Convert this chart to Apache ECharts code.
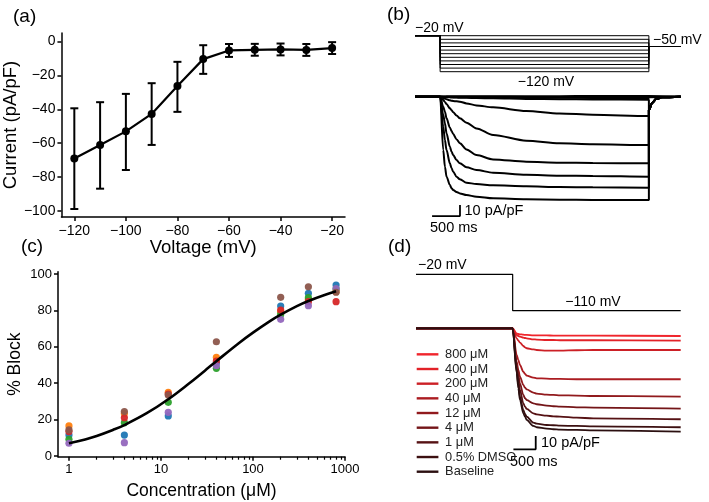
<!DOCTYPE html>
<html><head><meta charset="utf-8">
<script src="https://cdn.jsdelivr.net/npm/echarts@6/dist/echarts.min.js"></script>
<style>html,body{margin:0;padding:0;background:#fff}#c{width:709px;height:502px}</style>
</head><body><div id="c"></div><script>
const FONT = '"Liberation Sans", Arial, Helvetica, sans-serif';

// ---------- (a) I-V relationship ----------
const aVoltage = [-120, -110, -100, -90, -80, -70, -60, -50, -40, -30, -20];
const aCurrent = [-69, -61, -53, -42.7, -26.2, -10.4, -5.3, -4.9, -4.7, -5.0, -3.9];
const aErrLow  = [-98.8, -86.8, -75.8, -61, -41.5, -19.1, -9.1, -8.4, -8.2, -8.5, -7.4];
const aErrHigh = [-39.4, -35.8, -30.9, -24.6, -12, -2.2, -1.5, -1.4, -1.2, -1.5, -0.4];
const aTicksX = [-120, -100, -80, -60, -40, -20];
const aTicksY = [-100, -80, -60, -40, -20, 0];

// ---------- (b) protocol and current traces ----------
const bSteps = [-20, -30, -40, -50, -60, -70, -80, -90, -100, -110, -120];
const bProtoTime = [0, 450, 450, 4190, 4190, 4760];
const bHold = -20, bTailV = -50;
const bTime = [0, 450, 506, 536, 565, 625, 655, 684, 744, 804, 923, 1101, 1399, 1994, 2589, 3185, 4190];
const bI20  = [0, 0, 0.2, 0.2, 0.3, 0.3, 0.3, 0.3, 0.3, 0.4, 0.4, 0.4, 0.5, 0.5, 0.5, 0.6, 0.6];
const bI30  = [0, 0, 0, 0, 0, 0, 0, -0.1, -0.1, -0.1, -0.1, -0.1, -0.1, -0.2, -0.2, -0.2, -0.2];
const bI40  = [0, 0, -0.1, -0.1, -0.2, -0.2, -0.2, -0.2, -0.3, -0.3, -0.3, -0.3, -0.4, -0.4, -0.5, -0.5, -0.5];
const bI50  = [0, 0, -0.2, -0.2, -0.3, -0.3, -0.3, -0.4, -0.4, -0.4, -0.5, -0.6, -0.7, -0.9, -1.0, -1.1, -1.2];
const bI60  = [0, 0, -0.3, -0.4, -0.5, -0.6, -0.7, -0.7, -0.8, -0.9, -1.0, -1.2, -1.5, -2.0, -2.3, -2.5, -2.7];
const bI70  = [0, 0, -1.2, -1.8, -2.4, -3.3, -3.6, -3.9, -4.2, -4.5, -6.1, -7.9, -9.7, -13.0, -15.2, -16.4, -17.6];
const bI80  = [0, 0, -3.0, -4.8, -6.7, -10.6, -12.4, -14.2, -17.0, -19.7, -23.6, -28.8, -34.8, -40.0, -42.4, -43.3, -43.9];
const bI90  = [0, 0, -9.1, -13.6, -19.7, -27.9, -31.2, -33.9, -38.8, -42.4, -47.9, -53.0, -57.0, -59.1, -60.0, -60.3, -60.6];
const bI100 = [0, 0, -16.7, -24.2, -33.3, -45.5, -50.0, -53.0, -57.6, -60.6, -64.2, -66.7, -69.1, -70.9, -71.8, -72.1, -72.7];
const bI110 = [0, 0, -27.3, -39.4, -48.5, -60.6, -65.1, -68.2, -72.7, -75.1, -78.2, -79.4, -80.6, -81.5, -82.1, -82.4, -82.7];
const bI120 = [0, 0, -48.5, -63.6, -72.7, -80.3, -83.3, -84.8, -86.7, -87.9, -89.4, -90.9, -92.4, -93.3, -93.6, -93.9, -93.9];
const bTailTime = [4190, 4250, 4320, 4420, 4760];
const bTailI = [-12, -5.5, -2.2, -0.6, 0];
const bScaleT = [306, 806, 806];
const bScaleI = [-108.5, -108.5, -98.5];

// ---------- (c) concentration-response ----------
const cConc = [1, 4, 12, 40, 200, 400, 800];
const cBlue   = [11.5, 11.5, 22, 51.3, 82.4, 89.4, 94];
const cOrange = [16.5, 23.4, 35, 54.2, 79.3, 86, 90.3];
const cGreen  = [9.2, 18.3, 29.5, 48.2, 77.8, 87, 91.8];
const cRed    = [13.4, 21, 34, 52.2, 80.2, 84.8, 84.8];
const cPurple = [7.0, 7.3, 24, 49.6, 75.1, 82.6, 92];
const cBrown  = [14.3, 24.4, 33.5, 62.8, 87.2, 93, 90];
const cFitX = [1, 1.5, 2, 3, 4, 7, 12, 20, 30, 40, 70, 100, 150, 200, 300, 400, 600, 800];
const cFitY = [7, 9.1, 11, 14.3, 17.0, 23.5, 31.2, 39.7, 46.9, 52.1, 62, 67.8, 73.9, 77.7, 82.4, 85.2, 88.5, 90.5];
const cTicksX = [1, 10, 100, 1000];
const cMinorX = [2,3,4,5,6,7,8,9,20,30,40,50,60,70,80,90,200,300,400,500,600,700,800,900];
const cTicksY = [0, 20, 40, 60, 80, 100];

// ---------- (d) traces by concentration ----------
const dLabels = ['800 μM', '400 μM', '200 μM', '40 μM', '12 μM', '4 μM', '1 μM', '0.5% DMSO', 'Baseline'];
const dColors = ['#f0252c', '#e22228', '#cc2026', '#ab1c21', '#911a1d', '#741518', '#561214', '#3c1011', '#2b0f10'];
const dProtoTime = [0, 2167, 2167, 5934];
const dProtoV = [-20, -20, -110, -110];
const dTime = [0, 2167, 2257, 2294, 2331, 2406, 2444, 2481, 2630, 2705, 2929, 3079, 3228, 3602, 3975, 5934];
const d800  = [0, 0, -3.8, -4.3, -4.5, -4.8, -5.0, -5.0, -5.3, -5.3, -5.3, -5.5, -5.5, -5.5, -5.5, -5.8];
const d400  = [0, 0, -5.0, -5.8, -6.3, -7.0, -7.3, -7.5, -8.3, -8.5, -8.8, -8.8, -9.0, -9.0, -9.0, -9.3];
const d200  = [0, 0, -7.5, -9.3, -10.8, -13.3, -14.3, -15.0, -15.8, -16.3, -16.8, -16.8, -16.8, -16.5, -16.3, -16.3];
const d40   = [0, 0, -20.0, -23.8, -27.6, -32.6, -34.3, -35.6, -37.1, -37.6, -37.8, -38.1, -38.1, -38.3, -38.3, -38.3];
const d12   = [0, 0, -25.1, -31.3, -36.3, -42.6, -44.6, -45.9, -48.4, -49.1, -49.9, -50.1, -50.4, -50.6, -50.9, -51.4];
const d4    = [0, 0, -27.6, -35.1, -41.4, -50.1, -52.6, -53.9, -56.4, -57.1, -58.1, -58.6, -58.9, -59.4, -59.6, -60.4];
const d1    = [0, 0, -30.1, -38.8, -46.4, -56.4, -58.9, -60.6, -63.9, -64.7, -65.7, -66.2, -66.4, -67.2, -67.7, -68.4];
const dDMSO = [0, 0, -32.6, -42.6, -51.4, -61.4, -64.4, -66.4, -70.9, -71.7, -72.7, -72.9, -73.2, -73.4, -73.7, -74.4];
const dBase = [0, 0, -33.8, -45.1, -53.9, -63.9, -66.4, -68.9, -73.4, -74.4, -75.4, -75.9, -76.2, -76.4, -76.7, -77.7];
const dScaleT = [2184, 2684, 2684];
const dScaleI = [-91, -91, -81];

// ================= build =================
const minus = v => String(v).replace('-', '\u2212');
const zip = (xs, ys) => xs.map((x, i) => [x, ys[i]]);
const axisLineStyle = { color: '#000', width: 1.5 };

function valAxis(opts, nameSize) {
  return Object.assign({
    type: 'value', splitLine: { show: false },
    axisLine: { show: true, onZero: false, lineStyle: axisLineStyle },
    nameLocation: 'middle',
    nameTextStyle: { color: '#000', fontSize: nameSize, fontFamily: FONT }
  }, opts);
}
function hidden(gridIndex, min, max) {
  return { type: 'value', gridIndex, min, max, show: false, splitLine: { show: false } };
}

const series = [];

// (a)
series.push({
  type: 'custom', xAxisIndex: 0, yAxisIndex: 0, z: 3,
  data: aVoltage.map((v, i) => [v, aErrLow[i], aErrHigh[i]]),
  encode: { x: 0, y: [1, 2] },
  renderItem(params, api) {
    const lo = api.coord([api.value(0), api.value(1)]);
    const hi = api.coord([api.value(0), api.value(2)]);
    const w = 4, style = { stroke: '#000', lineWidth: 2 };
    return { type: 'group', children: [
      { type: 'line', shape: { x1: lo[0], y1: lo[1], x2: hi[0], y2: hi[1] }, style },
      { type: 'line', shape: { x1: lo[0] - w, y1: lo[1], x2: lo[0] + w, y2: lo[1] }, style },
      { type: 'line', shape: { x1: hi[0] - w, y1: hi[1], x2: hi[0] + w, y2: hi[1] }, style }
    ]};
  }
});
series.push({
  type: 'line', xAxisIndex: 0, yAxisIndex: 0, z: 4, data: zip(aVoltage, aCurrent),
  symbol: 'circle', symbolSize: 8, itemStyle: { color: '#000' },
  lineStyle: { color: '#000', width: 2.2 }
});

// (b) protocol
bSteps.forEach(V => {
  series.push({
    type: 'line', xAxisIndex: 1, yAxisIndex: 1, clip: false, showSymbol: false, silent: true,
    data: zip(bProtoTime, [bHold, bHold, V, V, bTailV, bTailV]),
    lineStyle: { color: '#000', width: 1 }
  });
});
// (b) traces
const bTraces = [[-20, bI20], [-30, bI30], [-40, bI40], [-50, bI50], [-60, bI60], [-70, bI70],
                 [-80, bI80], [-90, bI90], [-100, bI100], [-110, bI110], [-120, bI120]];
bTraces.forEach(([V, I]) => {
  let data = zip(bTime, I);
  if (V <= -60) data = data.concat(zip(bTailTime, bTailI));
  else data = data.concat([[4190, 0], [4760, 0]]);
  series.push({
    type: 'line', xAxisIndex: 2, yAxisIndex: 2, clip: false, showSymbol: false, silent: true,
    smooth: 0.3, smoothMonotone: 'x', data,
    lineStyle: { color: '#000', width: 2 }
  });
});
series.push({
  type: 'line', xAxisIndex: 2, yAxisIndex: 2, clip: false, showSymbol: false,
  data: zip(bScaleT, bScaleI), lineStyle: { color: '#000', width: 1.8 }
});

// (c)
const cSets = [['#1f77b4', cBlue], ['#ff7f0e', cOrange], ['#2ca02c', cGreen],
               ['#d62728', cRed], ['#9467bd', cPurple], ['#8c564b', cBrown]];
cSets.forEach(([col, vals]) => {
  series.push({
    type: 'scatter', xAxisIndex: 3, yAxisIndex: 3, symbolSize: 7.2, z: 2,
    data: zip(cConc, vals), itemStyle: { color: col, opacity: 0.95 }
  });
});
series.push({
  type: 'line', xAxisIndex: 3, yAxisIndex: 3, z: 5, smooth: 0.4, showSymbol: false,
  data: zip(cFitX, cFitY), lineStyle: { color: '#000', width: 2.6 }
});

// (d) protocol
series.push({
  type: 'line', xAxisIndex: 5, yAxisIndex: 4, clip: false, showSymbol: false,
  data: zip(dProtoTime, dProtoV), lineStyle: { color: '#000', width: 1.2 }
});
// (d) traces
const dSets = [d800, d400, d200, d40, d12, d4, d1, dDMSO, dBase];
dSets.forEach((vals, i) => {
  series.push({
    name: dLabels[i], type: 'line', xAxisIndex: 6, yAxisIndex: 5, clip: false, showSymbol: false,
    smooth: 0.3, smoothMonotone: 'x', data: zip(dTime, vals),
    itemStyle: { color: dColors[i] }, lineStyle: { color: dColors[i], width: 1.8 }
  });
});
series.push({
  type: 'line', xAxisIndex: 6, yAxisIndex: 5, clip: false, showSymbol: false,
  data: zip(dScaleT, dScaleI), lineStyle: { color: '#000', width: 1.8 }
});

const txt = (text, x, y, size, align) => ({
  type: 'text', x, y, silent: true,
  style: { text, fontSize: size, fontFamily: FONT, fill: '#000', align: align || 'left', verticalAlign: 'middle' }
});
const tickCfg = (vals, len) => ({ show: true, length: len || 4, lineStyle: axisLineStyle, customValues: vals });
const labelCfg = (vals, margin, fmt, size) => ({ color: '#000', fontSize: size, fontFamily: FONT, margin, customValues: vals, formatter: fmt });

const option = {
  animation: false,
  backgroundColor: '#fff',
  grid: [
    { left: 56, top: 33, width: 289, height: 184 },
    { left: 415, top: 35.7, width: 265.7, height: 36 },
    { left: 415, top: 91.2, width: 265.7, height: 126.5 },
    { left: 58, top: 271.7, width: 287, height: 185 },
    { left: 416, top: 274.3, width: 264.7, height: 36.4 },
    { left: 416, top: 321.65, width: 264.7, height: 133 }
  ],
  xAxis: [
    valAxis({ gridIndex: 0, min: -125, max: -15, name: 'Voltage (mV)', nameGap: 21,
      axisTick: tickCfg(aTicksX), axisLabel: labelCfg(aTicksX, 7, minus, 14) }, 18.5),
    hidden(1, 0, 4760),
    hidden(2, 0, 4760),
    valAxis({ type: 'log', gridIndex: 3, min: 0.76, max: 1000, name: 'Concentration (μM)', nameGap: 25,
      axisTick: tickCfg(cTicksX), axisLabel: labelCfg(cTicksX, 6, v => String(v), 13) }, 17.5),
    { type: 'log', gridIndex: 3, min: 0.76, max: 1000, position: 'bottom',
      axisLine: { show: false, onZero: false }, splitLine: { show: false }, axisLabel: { show: false },
      axisTick: { show: true, length: 3, lineStyle: { color: '#000', width: 1.2 }, customValues: cMinorX } },
    hidden(4, 0, 5934),
    hidden(5, 0, 5934)
  ],
  yAxis: [
    valAxis({ gridIndex: 0, min: -103.5, max: 5, name: 'Current (pA/pF)', nameGap: 37,
      axisTick: tickCfg(aTicksY), axisLabel: labelCfg(aTicksY, 6, minus, 14) }, 18.5),
    hidden(1, -120, -20),
    hidden(2, -110, 5),
    valAxis({ gridIndex: 3, min: -0.4, max: 101.3, name: '% Block', nameGap: 34,
      axisTick: tickCfg(cTicksY), axisLabel: labelCfg(cTicksY, 6, v => String(v), 13) }, 17.5),
    hidden(4, -110, -20),
    hidden(5, -95, 5)
  ],
  legend: {
    data: dLabels, orient: 'vertical', left: 411.7, top: 342, itemGap: 0,
    icon: 'rect', itemWidth: 21.7, itemHeight: 2.4, selectedMode: false,
    textStyle: { color: '#222', fontSize: 12.8, fontFamily: FONT, lineHeight: 14.67, padding: [0, 0, 0, 1.7] }
  },
  graphic: [
    txt('(a)', 13, 17, 19), txt('(b)', 387, 15, 19), txt('(c)', 21, 247, 19), txt('(d)', 388, 247, 19),
    txt('\u221220 mV', 415, 27.8, 14), txt('\u221250 mV', 653, 40.5, 14), txt('\u2212120 mV', 546, 82, 14, 'center'),
    txt('10 pA/pF', 464.5, 210.5, 14.5), txt('500 ms', 430, 228.3, 14.5),
    txt('\u221220 mV', 418, 265.5, 14), txt('\u2212110 mV', 593, 302, 14, 'center'),
    txt('10 pA/pF', 541, 442.7, 14.5), txt('500 ms', 510, 461.7, 14.5)
  ],
  series
};
const chart = echarts.init(document.getElementById('c'), null, { renderer: 'canvas' });
chart.setOption(option);
</script></body></html>
